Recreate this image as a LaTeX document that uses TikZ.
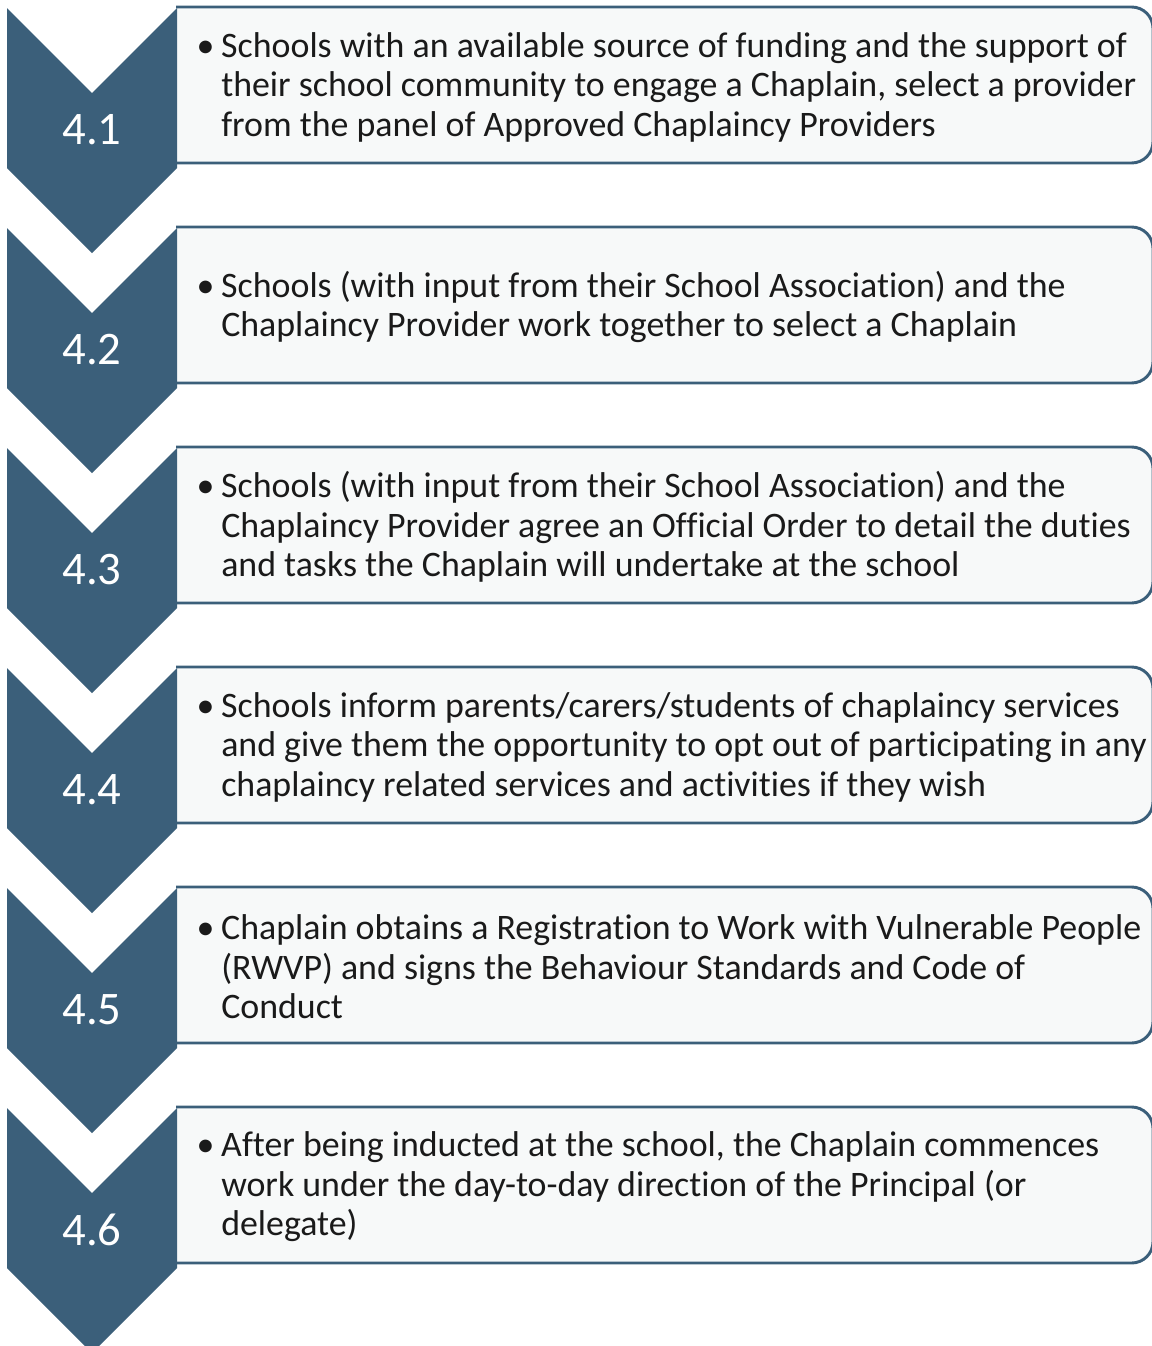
\documentclass[tikz,border=0pt]{standalone}
\usepackage{fontspec}
\setmainfont{Carlito}[Ligatures=NoCommon]
\usepackage{tikz}

\definecolor{chevblue}{RGB}{59,95,122}
\definecolor{boxfill}{RGB}{247,249,249}
\definecolor{textdark}{RGB}{26,26,26}

\begin{document}
\begin{tikzpicture}[x=0.75pt,y=-0.75pt]
    \tikzset{chevron/.style={fill=chevblue},
             stepbox/.style={draw=chevblue,line width=2.2pt,fill=boxfill,rounded corners=16pt},
             number/.style={text=white,inner sep=0pt,font=\fontsize{35}{40}\selectfont},
             steptext/.style={anchor=west,align=left,inner sep=0pt,text=textdark,
                              font=\fontsize{26.9}{29.6}\selectfont}}
    \useasboundingbox (0,0) rectangle (1152,1346);

    \foreach \i/\txt in {
        1/{Schools with an available source of funding and the support of\\their school community to engage a Chaplain, select a provider\\from the panel of Approved Chaplaincy Providers},
        2/{Schools (with input from their School Association) and the\\Chaplaincy Provider work together to select a Chaplain},
        3/{Schools (with input from their School Association) and the\\Chaplaincy Provider agree an Official Order to detail the duties\\and tasks the Chaplain will undertake at the school},
        4/{Schools inform parents/carers/students of chaplaincy services\\and give them the opportunity to opt out of participating in any\\chaplaincy related services and activities if they wish},
        5/{Chaplain obtains a Registration to Work with Vulnerable People\\(RWVP) and signs the Behaviour Standards and Code of\\Conduct},
        6/{After being inducted at the school, the Chaplain commences\\work under the day-to-day direction of the Principal (or\\delegate)}} {
        \pgfmathsetmacro{\ytop}{7+220*(\i-1)}
        % box, left edge hidden behind the chevron
        \begin{scope}
            \clip (176,\ytop-5) rectangle (1160,\ytop+165);
            \draw[stepbox] (120,\ytop) rectangle (1153,\ytop+156);
        \end{scope}
        \fill[chevron] (7,\ytop+1) -- (92,\ytop+86) -- (177,\ytop+1) -- (177,\ytop+161)
                       -- (92,\ytop+246) -- (7,\ytop+161) -- cycle;
        \node[number] (num\i) at (92,\ytop+123) {4.\i};
        \node[steptext] (txt\i) at (221,\ytop+80) {\makebox[0pt][r]{\textbullet\hspace{5pt}}\txt};
    }
\end{tikzpicture}
\end{document}
